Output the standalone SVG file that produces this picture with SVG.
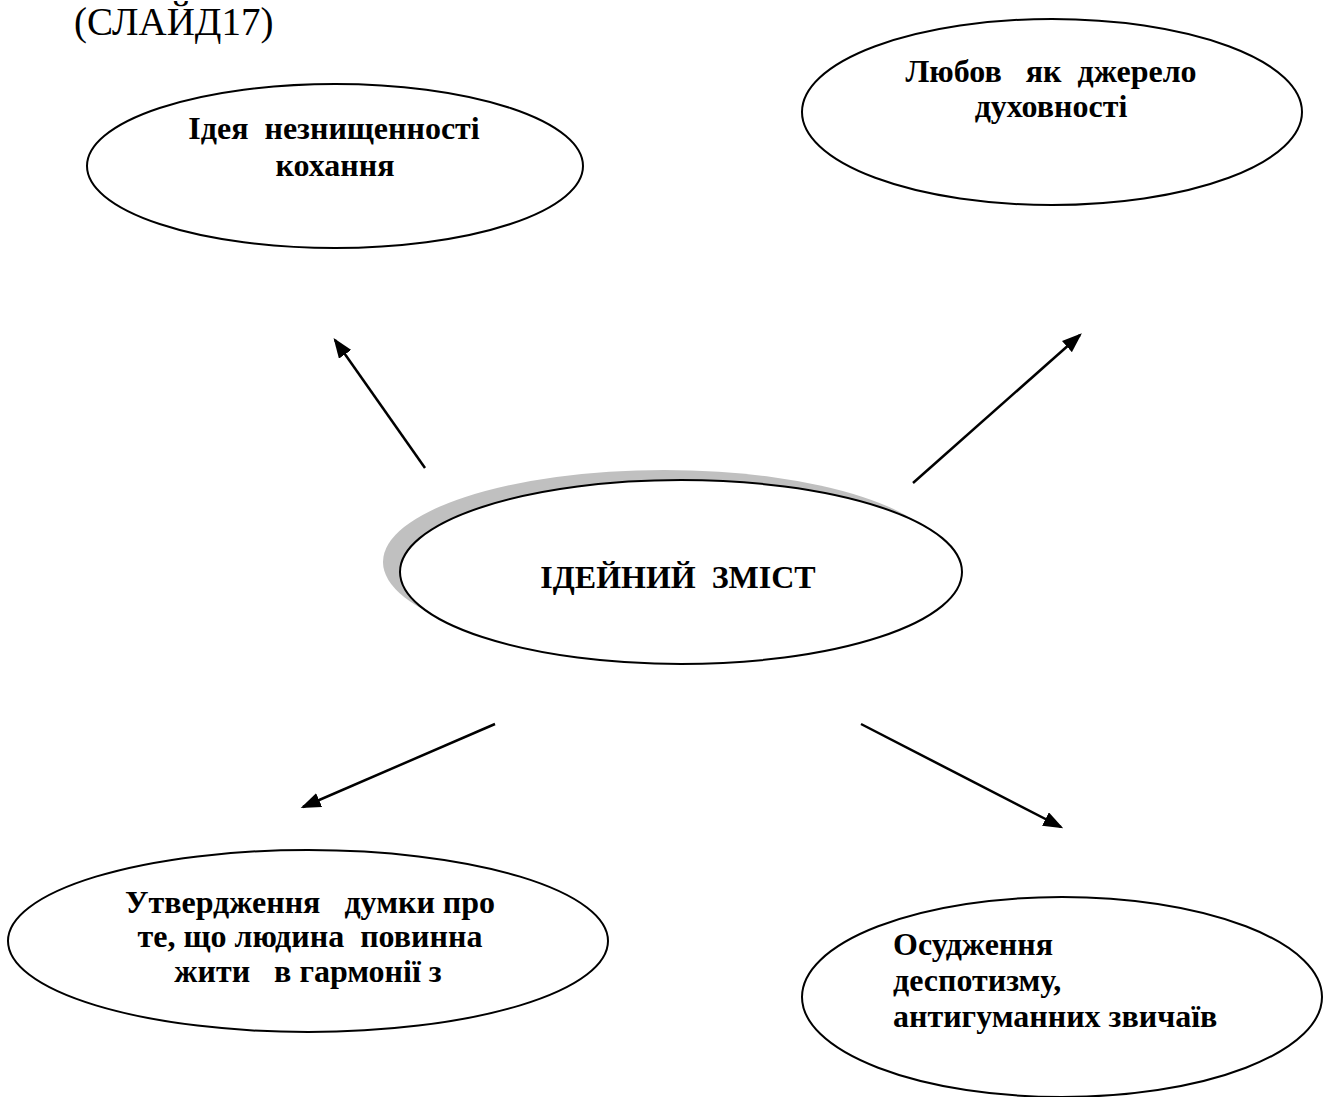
<svg xmlns="http://www.w3.org/2000/svg" width="1325" height="1097" viewBox="0 0 1325 1097">
<defs>
<marker id="ah" markerWidth="8" markerHeight="6" refX="7" refY="3" orient="auto" markerUnits="strokeWidth">
<path d="M0,0 L8,3 L0,6 z" fill="#000"/>
</marker>
<style>
.el{fill:#fff;stroke:#000;stroke-width:2}
.t{font-family:"Liberation Serif","Times New Roman",serif;font-weight:bold;font-size:32px;fill:#000}
.c{stroke:#000;stroke-width:2.5;fill:none;marker-end:url(#ah)}
</style>
</defs>
<rect width="1325" height="1097" fill="#fff"/>
<text x="74" y="35" font-family="Liberation Serif, serif" font-size="39" fill="#000">(СЛАЙД17)</text>
<g id="n-top-left">
<ellipse class="el" cx="335" cy="166" rx="248" ry="82"/>
<text class="t" x="334" y="139" text-anchor="middle" xml:space="preserve">Ідея  незнищенності</text>
<text class="t" x="335" y="176" text-anchor="middle">кохання</text>
</g>
<g id="n-top-right">
<ellipse class="el" cx="1052" cy="112" rx="250" ry="93"/>
<text class="t" x="1051" y="82" text-anchor="middle" xml:space="preserve">Любов   як  джерело</text>
<text class="t" x="1051" y="117" text-anchor="middle">духовності</text>
</g>
<g id="n-center">
<ellipse cx="664" cy="562" rx="281" ry="92" fill="#c0c0c0"/>
<ellipse class="el" cx="681" cy="572" rx="281" ry="92"/>
<text class="t" x="678" y="588" text-anchor="middle" xml:space="preserve">ІДЕЙНИЙ  ЗМІСТ</text>
</g>
<g id="n-bottom-left">
<ellipse class="el" cx="308" cy="941" rx="300" ry="91"/>
<text class="t" x="310" y="913" text-anchor="middle" xml:space="preserve">Утвердження   думки про</text>
<text class="t" x="310" y="947" text-anchor="middle" xml:space="preserve">те, що людина  повинна</text>
<text class="t" x="308" y="982" text-anchor="middle" xml:space="preserve">жити   в гармонії з</text>
</g>
<g id="n-bottom-right">
<ellipse class="el" cx="1062" cy="997" rx="260" ry="100"/>
<text class="t" x="893" y="955">Осудження</text>
<text class="t" x="893" y="991">деспотизму,</text>
<text class="t" x="893" y="1027">антигуманних звичаїв</text>
</g>
<g id="connectors">
<line class="c" x1="425" y1="468" x2="335" y2="340"/>
<line class="c" x1="913" y1="483" x2="1080" y2="335"/>
<line class="c" x1="495" y1="724" x2="303" y2="807"/>
<line class="c" x1="861" y1="724" x2="1061" y2="827"/>
</g>
</svg>
